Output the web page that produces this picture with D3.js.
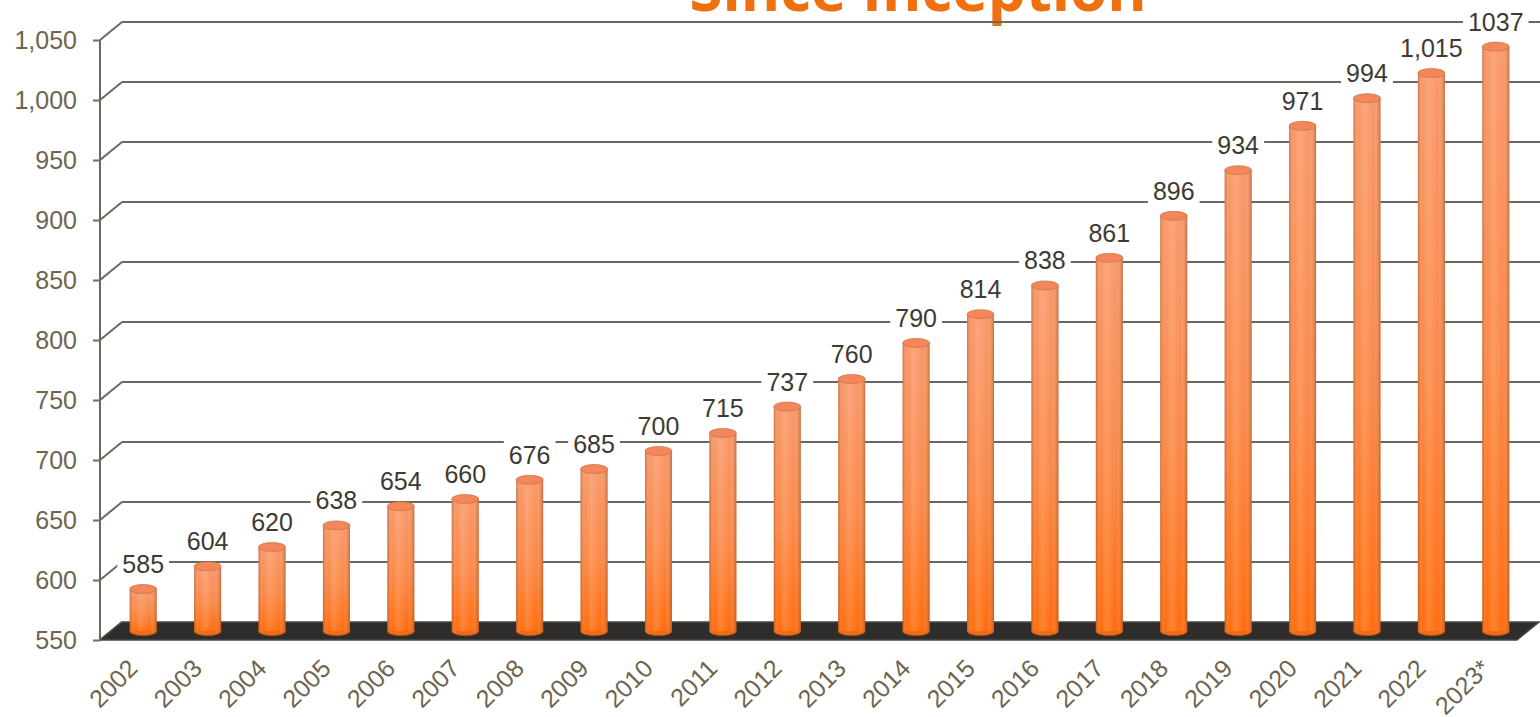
<!DOCTYPE html>
<html>
<head>
<meta charset="utf-8">
<script src="https://d3js.org/d3.v7.min.js"></script>
<style>
  body { margin: 0; background: #fff; }
  svg { display: block; }
</style>
</head>
<body>
<script>
// data
var years = ["2002","2003","2004","2005","2006","2007","2008","2009","2010","2011","2012",
             "2013","2014","2015","2016","2017","2018","2019","2020","2021","2022","2023*"];
var values = [585,604,620,638,654,660,676,685,700,715,737,760,790,814,838,861,896,934,971,994,1015,1037];
var valueLabels = ["585","604","620","638","654","660","676","685","700","715","737","760","790",
                   "814","838","861","896","934","971","994","1,015","1037"];
var yTicks = [550,600,650,700,750,800,850,900,950,1000,1050];
var title = "Since Inception";

var width = 1540, height = 717;
var depthX = 22, depthY = -18;      // offset of back wall
var barW = 27, barRy = 4.5;

var svg = d3.select("body").append("svg")
    .attr("width", width)
    .attr("height", height);

var defs = svg.append("defs");

var body = defs.append("linearGradient").attr("id", "barBody")
    .attr("x1", 0).attr("y1", 0).attr("x2", 0).attr("y2", 1);
body.append("stop").attr("offset", "0%").attr("stop-color", "#f99868");
body.append("stop").attr("offset", "55%").attr("stop-color", "#fb8846");
body.append("stop").attr("offset", "100%").attr("stop-color", "#ff6c0c");

var shade = defs.append("linearGradient").attr("id", "barShade")
    .attr("x1", 0).attr("y1", 0).attr("x2", 1).attr("y2", 0);
shade.append("stop").attr("offset", "0%").attr("stop-color", "#8a3a10").attr("stop-opacity", 0.4);
shade.append("stop").attr("offset", "18%").attr("stop-color", "#fff").attr("stop-opacity", 0.0);
shade.append("stop").attr("offset", "40%").attr("stop-color", "#fff").attr("stop-opacity", 0.15);
shade.append("stop").attr("offset", "75%").attr("stop-color", "#fff").attr("stop-opacity", 0.0);
shade.append("stop").attr("offset", "100%").attr("stop-color", "#8a3a10").attr("stop-opacity", 0.45);

var x = d3.scaleBand()
    .domain(years)
    .range([100, 1517]);

var y = d3.scaleLinear()
    .domain([550, 1050])
    .range([640, 40]);

// title, cut off at the top like the source
svg.append("text")
    .attr("x", 918)
    .attr("y", 11)
    .attr("text-anchor", "middle")
    .attr("font-family", "'Open Sans', sans-serif")
    .attr("font-weight", "bold")
    .attr("font-size", 60)
    .attr("fill", "#f07010")
    .text(title);

var grid = svg.append("g")
    .attr("stroke", "#6a6760")
    .attr("stroke-width", 2)
    .attr("fill", "none");

// back wall lines and the slants to the front axis
grid.selectAll(".back")
    .data(yTicks.slice(1))
    .enter().append("line")
    .attr("x1", 100 + depthX)
    .attr("x2", width)
    .attr("y1", function(d){ return y(d) + depthY; })
    .attr("y2", function(d){ return y(d) + depthY; });

grid.selectAll(".slant")
    .data(yTicks)
    .enter().append("line")
    .attr("x1", 100)
    .attr("y1", function(d){ return y(d); })
    .attr("x2", 100 + depthX)
    .attr("y2", function(d){ return y(d) + depthY; });

// floor
svg.append("polygon")
    .attr("points", [[100, 640], [1517, 640], [1517 + depthX, 640 + depthY], [100 + depthX, 640 + depthY]].join(" "))
    .attr("fill", "#2e2d2b")
    .attr("stroke", "#4a4844")
    .attr("stroke-width", 1.5);

// front axis with ticks
var yAxis = d3.axisLeft(y)
    .tickValues(yTicks)
    .tickSize(7)
    .tickPadding(16)
    .tickFormat(d3.format(","));

var ax = svg.append("g")
    .attr("transform", "translate(100,0)")
    .call(yAxis);
ax.select(".domain").attr("stroke", "#6a6760").attr("stroke-width", 2).attr("d", "M0," + y(1050) + "V" + y(550));
ax.selectAll(".tick line").attr("stroke", "#7a6c50").attr("stroke-width", 2);
ax.selectAll(".tick text")
    .attr("font-family", "'Liberation Sans', Arial, sans-serif")
    .attr("font-size", 25)
    .attr("fill", "#6e6450");

// cylinders, standing at half depth
var bx = function(d, i){ return x(years[i]) + x.bandwidth() / 2 + depthX / 2; };
var baseY = y(550) + depthY / 2;
var topY = function(v){ return y(v) + depthY / 2; };

var bars = svg.append("g").selectAll("g")
    .data(values)
    .enter().append("g");

bars.append("ellipse")
    .attr("cx", bx)
    .attr("cy", baseY)
    .attr("rx", barW / 2)
    .attr("ry", barRy)
    .attr("fill", "#f26a12")
    .attr("stroke", "#b8602e")
    .attr("stroke-width", 0.6);

bars.append("rect")
    .attr("x", function(d, i){ return bx(d, i) - barW / 2; })
    .attr("y", function(d){ return topY(d); })
    .attr("width", barW)
    .attr("height", function(d){ return baseY - topY(d); })
    .attr("fill", "url(#barBody)");

bars.append("rect")
    .attr("x", function(d, i){ return bx(d, i) - barW / 2; })
    .attr("y", function(d){ return topY(d); })
    .attr("width", barW)
    .attr("height", function(d){ return baseY - topY(d); })
    .attr("fill", "url(#barShade)");

bars.append("ellipse")
    .attr("cx", bx)
    .attr("cy", function(d){ return topY(d); })
    .attr("rx", barW / 2)
    .attr("ry", barRy)
    .attr("fill", "#f3875a")
    .attr("stroke", "#c87048")
    .attr("stroke-width", 0.7);

// value labels on white boxes
var labels = svg.append("g").selectAll("g")
    .data(values)
    .enter().append("g");

labels.append("rect").attr("fill", "#fff");
labels.append("text")
    .attr("x", bx)
    .attr("y", function(d){ return topY(d) - 16; })
    .attr("text-anchor", "middle")
    .attr("font-family", "'Liberation Sans', Arial, sans-serif")
    .attr("font-size", 25)
    .attr("fill", "#3d3a34")
    .text(function(d, i){ return valueLabels[i]; });

labels.each(function(){
    var g = d3.select(this);
    var b = g.select("text").node().getBBox();
    g.select("rect")
        .attr("x", b.x - 5).attr("y", b.y - 1)
        .attr("width", b.width + 10).attr("height", b.height + 2);
});

// category labels, slanted
svg.append("g").selectAll("text")
    .data(years)
    .enter().append("text")
    .attr("transform", function(d, i){
        var px = bx(0, i) - 4, py = 670;
        return "translate(" + px + "," + py + ") rotate(-45)";
    })
    .attr("text-anchor", "end")
    .attr("font-family", "'Liberation Sans', Arial, sans-serif")
    .attr("font-size", 25)
    .attr("fill", "#6e6450")
    .text(function(d){ return d; });
</script>
</body>
</html>
